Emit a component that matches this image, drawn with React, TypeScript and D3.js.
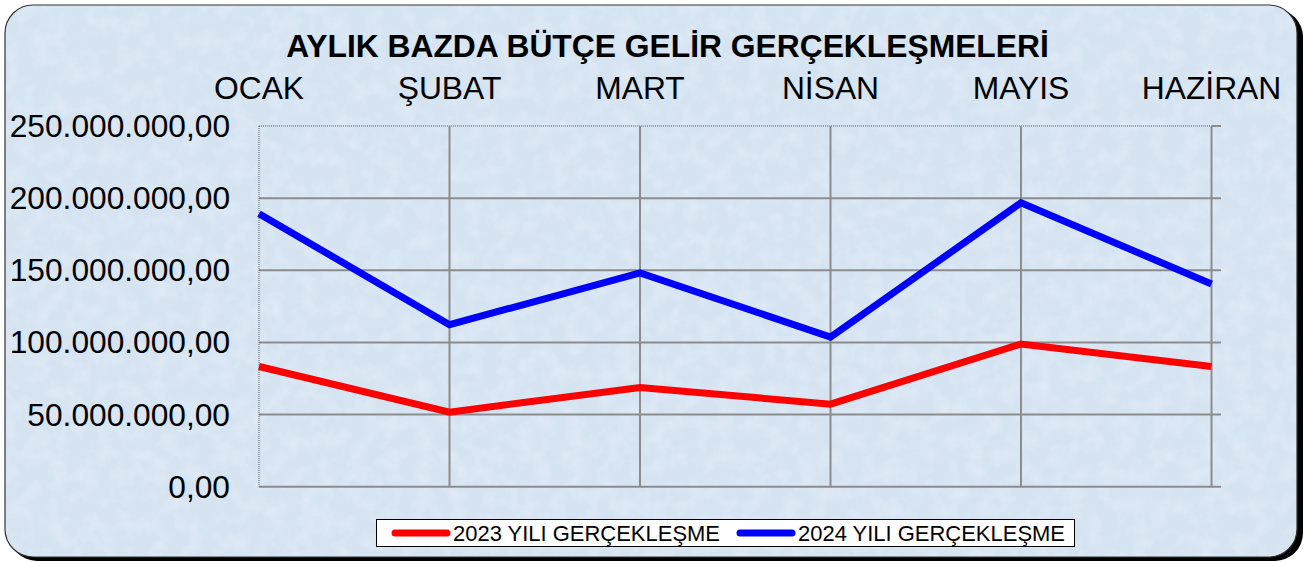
import React from "react";
import * as d3 from "d3";

const title = "AYLIK BAZDA BÜTÇE GELİR GERÇEKLEŞMELERİ";
const months = ["OCAK", "ŞUBAT", "MART", "NİSAN", "MAYIS", "HAZİRAN"];
const monthLabels = ["OCAK", "ŞUBAT", "MART", "NİSAN", "MAYIS", "HAZİRAN"];
const series2023 = [83.3e6, 51.7e6, 68.8e6, 57.2e6, 98.9e6, 83.3e6];
const series2024 = [189.2e6, 112.3e6, 148.2e6, 103.7e6, 196.8e6, 140.5e6];
const yTicks = [0, 50e6, 100e6, 150e6, 200e6, 250e6];
const legendNames = ["2023 YILI GERÇEKLEŞME", "2024 YILI GERÇEKLEŞME"];

const W = 1307;
const H = 562;
const plot = { left: 259, right: 1211.5, top: 126, bottom: 486.7 };
const font = "'Liberation Sans', Arial, Helvetica, sans-serif";

function fmt(v: number): string {
  const s = d3.format(",.2f")(v);
  return s.replace(/,/g, "#").replace(/\./g, ",").replace(/#/g, ".");
}

export default function App() {
  const x = d3.scalePoint<string>().domain(months).range([plot.left, plot.right]);
  const y = d3.scaleLinear().domain([0, 250e6]).range([plot.bottom, plot.top]);
  const line = d3
    .line<number>()
    .x((_, i) => x(months[i]) as number)
    .y((d) => y(d));

  const series = [
    { name: legendNames[0], values: series2023, color: "#ff0000" },
    { name: legendNames[1], values: series2024, color: "#0000ff" },
  ];

  return (
    <div style={{ position: "absolute", left: 0, top: 0 }}>
      <svg width={W} height={H} style={{ display: "block" }}>
        <defs>
          <filter id="tex" x="0" y="0" width="100%" height="100%">
            <feTurbulence type="fractalNoise" baseFrequency="0.06" numOctaves={4} seed={7} result="n" />
            <feColorMatrix
              in="n"
              type="matrix"
              values="0 0 0 0 1  0 0 0 0 1  0 0 0 0 1  0 0 0 1.2 -0.5"
            />
          </filter>
          <clipPath id="frameClip">
            <rect x={5} y={5} width={1292} height={552} rx={28} ry={28} />
          </clipPath>
        </defs>
        <rect x={0} y={0} width={W} height={H} fill="#ffffff" />
        {/* shadow */}
        <rect x={9} y={9} width={1294} height={552} rx={28} ry={28} fill="#000" />
        <g clipPath="url(#frameClip)">
          <rect x={5} y={5} width={1292} height={552} fill="#d6e4f2" />
          <rect x={5} y={5} width={1292} height={552} filter="url(#tex)" opacity={0.4} />
        </g>
        <rect x={5} y={5} width={1292} height={552} rx={28} ry={28} fill="none" stroke="#333" strokeWidth={1.2} />

        {/* title */}
        <text x={667.5} y={57} textAnchor="middle" fontFamily={font} fontWeight="bold" fontSize={31.8} fill="#000">
          {title}
        </text>

        {/* month labels */}
        {months.map((m, i) => (
          <text key={m} x={x(m) as number} y={99} textAnchor="middle" fontFamily={font} fontSize={31.8} fill="#000">
            {monthLabels[i]}
          </text>
        ))}

        {/* horizontal grid */}
        {yTicks.map((t) =>
          t === 250e6 ? (
            <line key={t} x1={plot.left} x2={plot.right} y1={y(t)} y2={y(t)} stroke="#555" strokeWidth={1} strokeDasharray="1,1" />
          ) : (
            <line key={t} x1={plot.left} x2={plot.right + 9.5} y1={y(t)} y2={y(t)} stroke="#8c8c8c" strokeWidth={2} />
          )
        )}
        <line x1={plot.right} x2={plot.right + 9.5} y1={y(250e6)} y2={y(250e6)} stroke="#8c8c8c" strokeWidth={2} />
        {/* vertical grid */}
        {months.slice(1).map((m) => (
          <line key={m} x1={x(m) as number} x2={x(m) as number} y1={plot.top} y2={plot.bottom} stroke="#8c8c8c" strokeWidth={2} />
        ))}
        <line x1={plot.left} x2={plot.left} y1={plot.top} y2={plot.bottom} stroke="#555" strokeWidth={1} strokeDasharray="1,1" />

        {/* y labels */}
        {yTicks.map((t) => (
          <text key={t} x={230} y={y(t) + 11} textAnchor="end" fontFamily={font} fontSize={31.7} fill="#000">
            {fmt(t)}
          </text>
        ))}

        {/* lines */}
        {series.map((s) => (
          <path key={s.name} d={line(s.values) || ""} fill="none" stroke={s.color} strokeWidth={7} strokeLinejoin="miter" />
        ))}

        {/* legend */}
        <rect x={376.5} y={519.5} width={698} height={27} fill="#fff" stroke="#000" strokeWidth={1} />
        {series.map((s, i) => {
          const lx = i === 0 ? 392 : 737;
          return (
            <g key={s.name}>
              <line x1={lx + 3} x2={lx + 55} y1={533} y2={533} stroke={s.color} strokeWidth={7} strokeLinecap="round" />
              <text x={lx + 61} y={541} fontFamily={font} fontSize={22} fill="#000" textLength={267} lengthAdjust="spacingAndGlyphs">
                {s.name}
              </text>
            </g>
          );
        })}
      </svg>
    </div>
  );
}
